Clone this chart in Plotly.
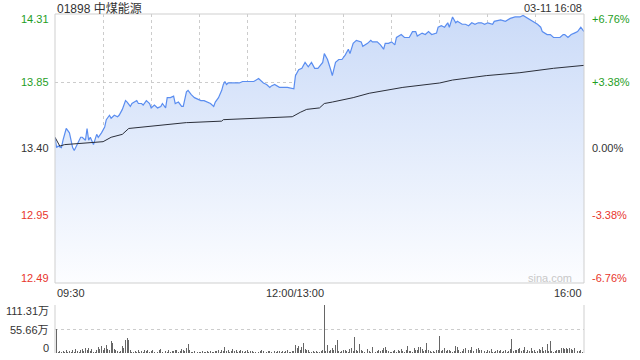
import plotly.graph_objects as go

# ---------------- data ----------------
# trading minutes since 09:30 (lunch break removed: 150 = 12:00/13:00, 330 = 16:00)
price_min = [0, 1, 2, 4, 5, 7, 9, 10, 11, 12, 14, 16, 17, 19, 20, 21, 22, 24, 26, 27,
             29, 31, 32, 34, 35, 37, 39, 40, 42, 44, 45, 47, 48, 51, 52, 54, 55, 57, 59, 60,
             62, 64, 66, 67, 69, 70, 71, 72, 74, 75, 77, 79, 80, 82, 83, 85, 87, 89, 91, 93,
             95, 97, 99, 100, 102, 104, 105, 106, 107, 108, 110, 112, 115, 117, 120, 122, 124, 127, 128, 130,
             132, 134, 135, 137, 140, 145, 149,
             150, 152, 154, 156, 158, 160, 162, 164, 167, 168, 170, 172, 173, 175, 177, 179, 181, 183, 184,
             186, 188, 191, 192, 195, 197, 198, 201, 203, 205, 206, 208, 210, 212, 213, 216, 218, 221, 223,
             225, 226, 229, 231, 233, 235, 238, 239, 241, 243, 245, 246, 248, 250, 251, 254, 256, 258, 260,
             262, 264, 266, 268, 270, 273, 274, 278, 281, 284, 287, 290, 292, 295, 298, 301, 303, 304, 307,
             309, 311, 313, 315, 317, 318, 320, 322, 324, 326, 328, 330]
price_val = [13.48, 13.41, 13.42, 13.41, 13.46, 13.54, 13.51, 13.45, 13.41, 13.39, 13.44, 13.48, 13.48, 13.46, 13.54, 13.46, 13.48, 13.43, 13.50, 13.48,
             13.51, 13.55, 13.60, 13.63, 13.61, 13.63, 13.62, 13.63, 13.67, 13.73, 13.72, 13.69, 13.71, 13.73, 13.71, 13.71, 13.70, 13.73, 13.71, 13.68,
             13.70, 13.68, 13.69, 13.71, 13.68, 13.75, 13.75, 13.75, 13.76, 13.71, 13.72, 13.69, 13.69, 13.79, 13.80, 13.77, 13.75, 13.74, 13.73, 13.73,
             13.72, 13.71, 13.69, 13.72, 13.75, 13.80, 13.84, 13.86, 13.84, 13.85, 13.85, 13.85, 13.85, 13.86, 13.86, 13.86, 13.86, 13.88, 13.87, 13.85,
             13.84, 13.82, 13.83, 13.84, 13.82, 13.82, 13.81,
             13.90, 13.94, 13.95, 13.99, 13.96, 13.99, 13.95, 13.95, 13.99, 14.05, 14.01, 13.94, 13.90, 13.99, 14.01, 14.01, 14.04, 14.08, 14.05,
             14.12, 14.14, 14.13, 14.10, 14.12, 14.14, 14.13, 14.13, 14.11, 14.08, 14.12, 14.12, 14.13, 14.11, 14.16, 14.18, 14.16, 14.16, 14.20,
             14.20, 14.17, 14.19, 14.18, 14.20, 14.18, 14.19, 14.23, 14.24, 14.23, 14.26, 14.23, 14.30, 14.26, 14.27, 14.25, 14.25, 14.24, 14.26,
             14.25, 14.26, 14.26, 14.25, 14.26, 14.25, 14.27, 14.28, 14.27, 14.29, 14.30, 14.30, 14.31, 14.29, 14.27, 14.25, 14.23, 14.20, 14.18,
             14.18, 14.16, 14.16, 14.16, 14.18, 14.18, 14.16, 14.18, 14.19, 14.20, 14.23, 14.20]

avg_min = [0, 3, 6, 20, 30, 35, 42, 46, 62, 82, 83, 104, 105, 148, 153, 157, 165, 168, 173, 186,
           196, 217, 240, 248, 269, 290, 311, 330]
avg_val = [13.48, 13.42, 13.43, 13.44, 13.45, 13.48, 13.50, 13.54, 13.56, 13.58, 13.58, 13.59, 13.60, 13.62, 13.65, 13.67, 13.68, 13.71, 13.72, 13.75,
           13.78, 13.82, 13.85, 13.87, 13.90, 13.92, 13.95, 13.97]

# volume per minute, in 万 shares (index = trading minute)
volume = [84, 55, 3, 4, 2, 5, 3, 6, 2, 4,
          3, 8, 2, 10, 4, 3, 6, 9, 5, 11,
          7, 12, 4, 9, 3, 2, 6, 14, 10, 16,
          8, 12, 18, 9, 6, 28, 23, 10, 7, 4,
          3, 5, 16, 12, 30, 35, 29, 6, 3, 2,
          4, 3, 7, 2, 5, 3, 8, 4, 6, 3,
          5, 8, 3, 4, 2, 6, 9, 3, 5, 4,
          3, 7, 2, 5, 4, 6, 8, 3, 4, 9,
          6, 4, 12, 21, 7, 3, 2, 4, 1, 2,
          3, 2, 4, 3, 2, 5, 3, 4, 2, 3,
          5, 4, 6, 3, 8, 4, 15, 5, 7, 3,
          4, 9, 5, 6, 3, 4, 7, 5, 3, 4,
          6, 3, 4, 5, 3, 2, 4, 3, 5, 6,
          4, 3, 2, 5, 4, 3, 6, 4, 3, 5,
          4, 3, 5, 3, 4, 6, 3, 2, 4, 5,
          19, 12, 16, 8, 14, 23, 10, 6, 8, 3,
          2, 4, 3, 5, 2, 3, 4, 6, 111.31, 4,
          18, 5, 7, 12, 6, 19, 31, 4, 3, 5,
          6, 8, 4, 3, 9, 12, 5, 37, 8, 4,
          21, 7, 5, 3, 6, 10, 4, 3, 15, 4,
          3, 5, 8, 4, 6, 11, 14, 7, 4, 3,
          2, 4, 8, 3, 6, 5, 10, 4, 3, 6,
          16, 5, 4, 3, 12, 8, 6, 14, 15, 9,
          4, 6, 23, 7, 5, 3, 4, 2, 6, 8,
          40, 5, 6, 12, 4, 8, 7, 5, 3, 4,
          17, 14, 6, 3, 4, 10, 12, 5, 8, 6,
          14, 4, 3, 9, 11, 6, 7, 12, 5, 3,
          6, 4, 10, 3, 2, 5, 8, 4, 6, 3,
          4, 7, 3, 5, 9, 33, 5, 8, 6, 10,
          11, 4, 7, 14, 3, 6, 5, 12, 4, 6,
          3, 5, 9, 8, 15, 4, 6, 20, 5, 28,
          4, 3, 5, 6, 8, 7, 12, 11, 10, 12,
          9, 11, 10, 8, 12, 3, 5, 4, 6, 2,
          45]
vol_min = list(range(len(volume)))

price_ticks = [14.31, 13.85, 13.40, 12.95, 12.49]
pct_labels = ["+6.76%", "+3.38%", "0.00%", "-3.38%", "-6.76%"]
vol_ticks = [111.31, 55.66, 0]
vol_labels = ["111.31万", "55.66万", "0"]
time_ticks = [0, 150, 330]
time_labels = ["09:30", "12:00/13:00", "16:00"]
grid_minutes = [30, 60, 90, 120, 150, 180, 210, 240, 270, 300]

title_text = "01898 中煤能源"
stamp_text = "03-11 16:08"

# ---------------- figure ----------------
W, H = 640, 360
X0, X1 = 55, 584
MAIN_TOP, MAIN_BOT = 14, 283
VOL_TOP, VOL_BOT = 305, 353

def py(p):
    return 1 - p / H

FONT = "Liberation Sans, Arial, Noto Sans CJK SC, sans-serif"
GREEN = "#1f9e1f"
RED = "#e8362c"
DARK = "#333333"
GRID = "#cccccc"

fig = go.Figure()

fig.add_trace(go.Scatter(
    x=price_min, y=price_val, mode="lines",
    line=dict(color="#5a8df0", width=1.2),
    fill="tozeroy",
    fillgradient=dict(type="vertical", start=12.49, stop=14.31,
                      colorscale=[[0, "rgba(252,253,255,1)"], [1, "rgba(203,219,248,1)"]]),
    hoverinfo="skip", xaxis="x", yaxis="y"))

fig.add_trace(go.Scatter(
    x=avg_min, y=avg_val, mode="lines",
    line=dict(color="#2b2f3a", width=1),
    hoverinfo="skip", xaxis="x", yaxis="y"))

fig.add_trace(go.Bar(
    x=vol_min, y=volume, width=0.6, cliponaxis=False,
    marker=dict(color="#666666", line=dict(width=0)),
    hoverinfo="skip", xaxis="x2", yaxis="y2"))

fig.update_layout(
    width=W, height=H,
    margin=dict(l=0, r=0, t=0, b=0),
    paper_bgcolor="white", plot_bgcolor="white",
    showlegend=False, bargap=0,
    font=dict(family=FONT, size=11, color=DARK),
    xaxis=dict(domain=[X0 / W, X1 / W], range=[0, 330], tickvals=grid_minutes,
               showticklabels=False, showgrid=True, gridcolor=GRID, griddash="dot",
               gridwidth=1, zeroline=False, ticks="", fixedrange=True),
    yaxis=dict(domain=[py(MAIN_BOT), py(MAIN_TOP)], range=[12.487, 14.32],
               tickvals=price_ticks[1:4], showticklabels=False, showgrid=True,
               gridcolor=GRID, griddash="dot", zeroline=False, ticks=""),
    xaxis2=dict(domain=[X0 / W, X1 / W], range=[0, 330], anchor="y2",
                showticklabels=False, showgrid=False, zeroline=False, ticks=""),
    yaxis2=dict(domain=[py(VOL_BOT), py(VOL_TOP)], range=[0, 111.31], anchor="x2",
                tickvals=vol_ticks[:2], showticklabels=False, showgrid=True,
                gridcolor=GRID, griddash="dot", zeroline=False, ticks=""),
)

shapes = [
    dict(type="rect", xref="x domain", yref="y domain", x0=0, x1=1, y0=0, y1=1,
         line=dict(color="#cfcfcf", width=1), fillcolor="rgba(0,0,0,0)", layer="above"),
    dict(type="line", xref="x2 domain", yref="y2 domain", x0=0, x1=0, y0=0, y1=1,
         line=dict(color="#cfcfcf", width=1), layer="below"),
    dict(type="line", xref="x2 domain", yref="y2 domain", x0=1, x1=1, y0=0, y1=1,
         line=dict(color="#cfcfcf", width=1), layer="below"),
]

ann = []
ann.append(dict(text=title_text, xref="paper", yref="paper", x=X0 / W, y=py(8),
                xanchor="left", yanchor="middle", showarrow=False,
                font=dict(size=12, color=DARK, family=FONT)))
ann.append(dict(text=stamp_text, xref="paper", yref="paper", x=X1 / W, y=py(8),
                xanchor="right", yanchor="middle", showarrow=False,
                font=dict(size=11, color=DARK, family=FONT)))

left_colors = [GREEN, GREEN, DARK, RED, RED]
shifts = [-4, 1, 1, 0, 5]
for v, lab, c, s in zip(price_ticks, pct_labels, left_colors, shifts):
    ann.append(dict(text=f"{v:.2f}", xref="paper", yref="y", x=51 / W, y=v, yshift=s,
                    xanchor="right", yanchor="middle", showarrow=False,
                    font=dict(size=11, color=c)))
    ann.append(dict(text=lab, xref="paper", yref="y", x=590 / W, y=v, yshift=s,
                    xanchor="left", yanchor="middle", showarrow=False,
                    font=dict(size=11, color=c)))

for v, lab, s in zip(vol_ticks, vol_labels, [-6, -1, 5]):
    ann.append(dict(text=lab, xref="paper", yref="y2", x=51 / W, y=v, yshift=s,
                    xanchor="right", yanchor="middle", showarrow=False,
                    font=dict(size=11, color=DARK)))

anchors = ["left", "center", "right"]
for t, lab, a in zip(time_ticks, time_labels, anchors):
    ann.append(dict(text=lab, xref="x", yref="paper", x=t, y=py(293),
                    xanchor=a, yanchor="middle", showarrow=False,
                    font=dict(size=11, color=DARK)))

ann.append(dict(text="sina.com", xref="paper", yref="paper", x=574 / W, y=py(278),
                xanchor="right", yanchor="middle", showarrow=False,
                font=dict(size=11, color="#c8c8c8")))

fig.update_layout(shapes=shapes, annotations=ann)
fig.write_html("out.html", config={"displayModeBar": False, "staticPlot": True},
               post_script="document.body.style.margin='0';document.body.style.overflow='hidden';")
